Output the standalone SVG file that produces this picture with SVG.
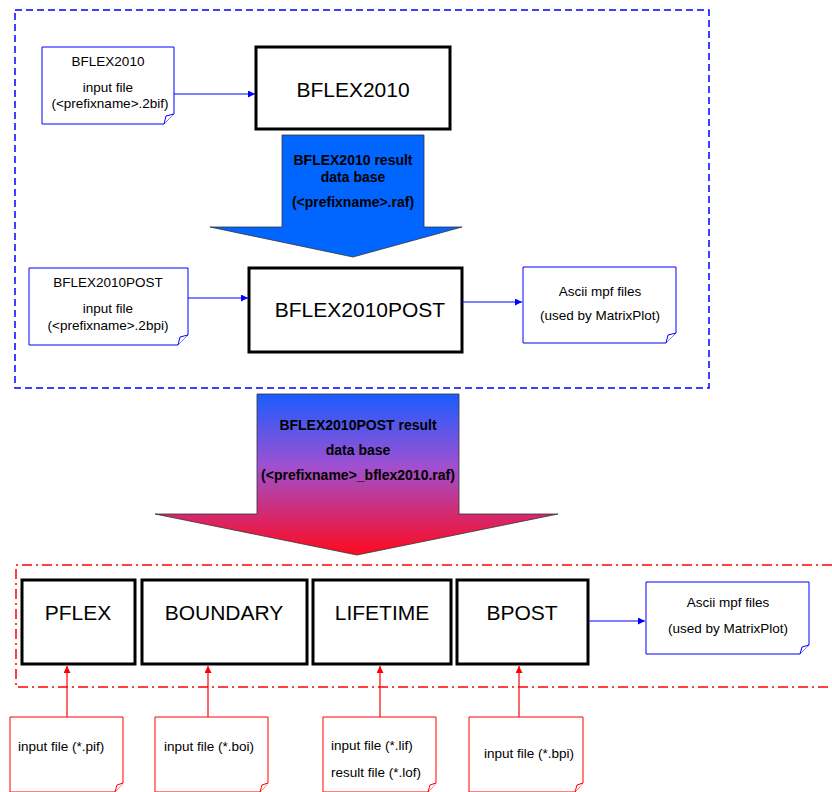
<svg xmlns="http://www.w3.org/2000/svg" width="832" height="792" viewBox="0 0 832 792">
<defs>
<style>
text{font-family:"Liberation Sans",Arial,sans-serif;fill:#000}
.s{font-size:13.5px}
.b{font-size:14px;font-weight:bold}
.l{font-size:21px}
.box{fill:#fff;stroke:#000;stroke-width:3}
.bdoc{fill:#fff;stroke:#0000ff;stroke-width:1}
.rdoc{fill:#fff;stroke:#ff0000;stroke-width:1}
.bl{stroke:#0000ff;stroke-width:1.2;fill:none}
.rl{stroke:#ff0000;stroke-width:1.2;fill:none}
</style>
<marker id="ab" viewBox="0 0 10 10" refX="10" refY="5" markerWidth="8" markerHeight="7" orient="auto" markerUnits="userSpaceOnUse"><path d="M0,0L10,5L0,10z" fill="#0000ff"/></marker>
<marker id="ar" viewBox="0 0 10 10" refX="10" refY="5" markerWidth="8" markerHeight="7" orient="auto" markerUnits="userSpaceOnUse"><path d="M0,0L10,5L0,10z" fill="#ff0000"/></marker>
<linearGradient id="g" x1="0" y1="0" x2="0" y2="1">
<stop offset="0" stop-color="#1a5cff"/>
<stop offset="0.45" stop-color="#a050d0"/>
<stop offset="1" stop-color="#ff0a1e"/>
</linearGradient>
</defs>

<g id="frames">
<rect x="15" y="10" width="694" height="378" fill="none" stroke="#0000ff" stroke-width="1.5" stroke-dasharray="7,4"/>
<path d="M832,565H16V687H832" fill="none" stroke="#ff0000" stroke-width="1.5" stroke-dasharray="10,4,2,4"/>
</g>

<g id="bigarrow1">
<path d="M282,135H424V227H462L353,257L210,227H282Z" fill="#0066ff" stroke="#333" stroke-width="0.8"/>
<text class="b" x="353" y="165" text-anchor="middle">BFLEX2010 result</text>
<text class="b" x="353" y="182" text-anchor="middle">data base</text>
<text class="b" x="353" y="207" text-anchor="middle">(&lt;prefixname&gt;.raf)</text>
</g>

<g id="bigarrow2">
<path d="M257,394H459V514H558L357,555L155,514H257Z" fill="url(#g)" stroke="#333" stroke-width="0.8"/>
<text class="b" x="358" y="430" text-anchor="middle">BFLEX2010POST result</text>
<text class="b" x="358" y="455" text-anchor="middle">data base</text>
<text class="b" x="358" y="480" text-anchor="middle">(&lt;prefixname&gt;_bflex2010.raf)</text>
</g>

<g id="doc-bflex-in">
<path class="bdoc" d="M42,47H174V114L164,124H42Z"/>
<path class="bdoc" d="M164,124L166,116L174,114"/>
<text class="s" x="108" y="66" text-anchor="middle">BFLEX2010</text>
<text class="s" x="108" y="92" text-anchor="middle">input file</text>
<text class="s" x="110" y="108" text-anchor="middle">(&lt;prefixname&gt;.2bif)</text>
</g>

<g id="bflex">
<rect class="box" x="256" y="47" width="194" height="82"/>
<text class="l" x="353" y="97" text-anchor="middle">BFLEX2010</text>
</g>

<g id="doc-post-in">
<path class="bdoc" d="M29,268H188V335L178,345H29Z"/>
<path class="bdoc" d="M178,345L180,337L188,335"/>
<text class="s" x="108" y="287" text-anchor="middle">BFLEX2010POST</text>
<text class="s" x="108" y="313" text-anchor="middle">input file</text>
<text class="s" x="108" y="330" text-anchor="middle">(&lt;prefixname&gt;.2bpi)</text>
</g>

<g id="bflexpost">
<rect class="box" x="249" y="268" width="213" height="84"/>
<text class="l" x="360" y="317" text-anchor="middle">BFLEX2010POST</text>
</g>

<g id="doc-ascii1">
<path class="bdoc" d="M523,267H676V333L666,343H523Z"/>
<path class="bdoc" d="M666,343L668,335L676,333"/>
<text class="s" x="600" y="296" text-anchor="middle">Ascii mpf files</text>
<text class="s" x="600" y="320" text-anchor="middle">(used by MatrixPlot)</text>
</g>

<g id="pflex">
<rect class="box" x="22" y="580" width="113" height="84"/>
<text class="l" x="78" y="620" text-anchor="middle">PFLEX</text>
</g>
<g id="boundary">
<rect class="box" x="142" y="580" width="165" height="84"/>
<text class="l" x="224" y="620" text-anchor="middle">BOUNDARY</text>
</g>
<g id="lifetime">
<rect class="box" x="313" y="580" width="138" height="84"/>
<text class="l" x="382" y="620" text-anchor="middle">LIFETIME</text>
</g>
<g id="bpost">
<rect class="box" x="457" y="580" width="131" height="84"/>
<text class="l" x="522" y="620" text-anchor="middle">BPOST</text>
</g>

<g id="doc-ascii2">
<path class="bdoc" d="M646,582H809V645L800,654H646Z"/>
<path class="bdoc" d="M800,654L802,647L809,645"/>
<text class="s" x="728" y="607" text-anchor="middle">Ascii mpf files</text>
<text class="s" x="728" y="633" text-anchor="middle">(used by MatrixPlot)</text>
</g>

<g id="doc-pif">
<path class="rdoc" d="M10,717H123V783L115,792H10Z"/>
<path class="rdoc" d="M115,792L117,785L123,783"/>
<text class="s" x="18" y="751">input file (*.pif)</text>
</g>
<g id="doc-boi">
<path class="rdoc" d="M155,717H268V783L260,792H155Z"/>
<path class="rdoc" d="M260,792L262,785L268,783"/>
<text class="s" x="164" y="751">input file (*.boi)</text>
</g>
<g id="doc-lif">
<path class="rdoc" d="M323,717H436V783L428,792H323Z"/>
<path class="rdoc" d="M428,792L430,785L436,783"/>
<text class="s" x="331" y="750">input file (*.lif)</text>
<text class="s" x="331" y="777">result file (*.lof)</text>
</g>
<g id="doc-bpi">
<path class="rdoc" d="M469,717H583V783L575,792H469Z"/>
<path class="rdoc" d="M575,792L577,785L583,783"/>
<text class="s" x="484" y="758">input file (*.bpi)</text>
</g>

<g id="connectors">
<path class="bl" d="M174,94H255" marker-end="url(#ab)"/>
<path class="bl" d="M188,298H248" marker-end="url(#ab)"/>
<path class="bl" d="M462,302H522" marker-end="url(#ab)"/>
<path class="bl" d="M588,621H645" stroke-width="2.5" marker-end="url(#ab)"/>
<path class="rl" d="M67,717V666" marker-end="url(#ar)"/>
<path class="rl" d="M208,717V666" marker-end="url(#ar)"/>
<path class="rl" d="M380,717V666" marker-end="url(#ar)"/>
<path class="rl" d="M519,717V666" marker-end="url(#ar)"/>
</g>
</svg>
